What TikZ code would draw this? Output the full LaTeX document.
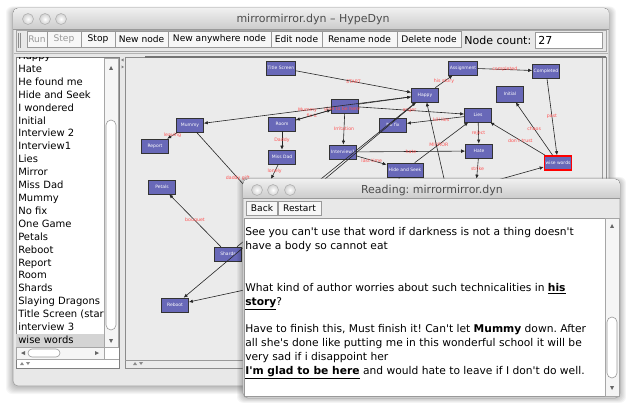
\documentclass[tikz,border=0pt]{standalone}
\usepackage{fontspec}
\setmainfont{DejaVu Sans}
\usetikzlibrary{arrows.meta,%
                shapes,%
                backgrounds,%
                positioning,%
                fit}

\definecolor{nodeblue}{RGB}{104,104,184}
\definecolor{labelred}{RGB}{255,84,84}
\definecolor{winbg}{RGB}{232,232,232}
\definecolor{canvasbg}{RGB}{235,235,235}
\definecolor{framegray}{RGB}{160,160,160}
\definecolor{titlegray}{RGB}{77,77,77}

\newcommand{\ulbf}[1]{\textbf{\underline{#1}}}
\newcommand{\sq}{\textquotesingle}

\begin{document}
\frenchspacing
\begin{tikzpicture}[x=1pt, y=-1pt, line width=.6pt,
window/.style={draw=framegray, fill=winbg, rounded corners=5pt},
%
light/.style={circle, draw=black!30, inner color=white, outer color=black!18,
minimum size=11pt, inner sep=0pt},
%
wintitle/.style={text=titlegray, font=\fontsize{11}{12}\selectfont},
%
button/.style={draw=black!40, fill=white!97!black, minimum height=16pt,
inner sep=0pt, font=\fontsize{9.1}{10}\selectfont},
%
listitem/.style={anchor=base west, inner sep=0pt, font=\fontsize{10}{11}\selectfont},
%
gnode/.style={rectangle, draw=black!80, fill=nodeblue, text=white,
minimum width=27pt, minimum height=14pt, inner sep=1pt,
font=\fontsize{4.5}{5}\selectfont,
path picture={\draw[white!55!nodeblue, line width=1pt]
  ([yshift=-0.6pt]path picture bounding box.north west) -- ([yshift=-0.6pt]path picture bounding box.north east);}},
%
wisebox/.style={draw=red, line width=1.6pt},
%
elabel/.style={text=labelred, inner sep=0.5pt, font=\fontsize{4.7}{5}\selectfont},
%
reading/.style={anchor=base west, inner sep=0pt, font=\fontsize{10.7}{12}\selectfont}]

\tikzset{>={Latex[length=4pt,width=3.5pt]}}

\useasboundingbox[fill=white] (0,0) rectangle (626,403);

% main window
\begin{scope}
  \foreach \s in {1,...,7}
    \fill[black, opacity=0.035, rounded corners=6pt] (13-\s,10-0.5*\s) rectangle (609+\s,387+\s);
  \draw[window] (13,8) rectangle (609,386);
  \begin{scope}
    \clip[rounded corners=5pt] (13,8) rectangle (609,386);
    \fill[top color=black!6, bottom color=black!20] (13,8) rectangle (609,29);
    \draw[black!40] (13,29) -- (609,29);
  \end{scope}
  \node[light] (close) at (28,19) {};
  \node[light] (mini) at (45,19) {};
  \node[light] (zoom) at (61,19) {};
  \node[wintitle] (maintitle) at (313,19) {mirrormirror.dyn – HypeDyn};
  %%%%%%%%%%%%%%%%%%%%%%%%%%%%%%%%%%
  \draw[black!35] (16,30) rectangle (606,51);
  \draw[black!45] (18,33) -- (18,48) (20,33) -- (20,48);
  \node[button, minimum width=20pt, text=black!40] (run) at (37,39) {Run};
  \node[button, minimum width=34pt, text=black!40] (stepbtn) at (64,39) {Step};
  \node[button, minimum width=34pt] (stop) at (98,39) {Stop};
  \node[button, minimum width=53pt] (newnode) at (141.5,39) {New node};
  \node[button, minimum width=103pt] (anywhere) at (219.5,39) {New anywhere node};
  \node[button, minimum width=51pt] (edit) at (296.5,39) {Edit node};
  \node[button, minimum width=75pt] (rename) at (359.5,39) {Rename node};
  \node[button, minimum width=64pt] (delete) at (429,39) {Delete node};
  \node[anchor=west, inner sep=0pt, font=\fontsize{11}{13}\selectfont] (count) at (464,40) {Node count:};
  \draw[black!40, fill=white] (535,32) rectangle (602,48);
  \node[anchor=west, inner sep=0pt, font=\fontsize{11}{12}\selectfont] (countval) at (538,40) {27};
  \draw[black!30] (14,53) -- (608,53);
\end{scope}

% node list
\begin{scope}
  \draw[black!50, fill=white] (16,57) rectangle (119,368);
  \fill[black!17] (16,334) rectangle (104,347);
  \begin{scope}
    \clip (16,58) rectangle (103,347);
    \foreach \name [count=\i from -1] in {Happy, Hate, He found me, Hide and Seek,
        I wondered, Initial, Interview 2, Interview1, Lies, Mirror, Miss Dad,
        Mummy, No fix, One Game, Petals, Reboot, Report, Room, Shards,
        Slaying Dragons, Title Screen (star, interview 3, wise words}
      \node[listitem] (item\i) at (18,72.5+12.9*\i) {\name};
  \end{scope}
  %%%%%%%%%%%%%%%%%%%%%%%%%%%%%%%%%%
  \draw[black!35, fill=black!4] (104,58) rectangle (118,347);
  \draw[black!40, fill=white, rounded corners=5pt] (106,120) rectangle (116,330);
  \fill[black!60] (109,70) -- (113,70) -- (111,66) -- cycle;
  \fill[black!60] (109,339) -- (113,339) -- (111,343) -- cycle;
  \draw[black!35, fill=black!4] (16,347) rectangle (104,359);
  \draw[black!40, fill=white, rounded corners=4pt] (28,349) rectangle (60,357);
  \fill[black!60] (21,353) -- (25,351) -- (25,355) -- cycle;
  \fill[black!60] (99,353) -- (95,351) -- (95,355) -- cycle;
  \draw[black!35] (16,359) -- (119,359);
  \fill[black!45] (20,365) -- (22,362) -- (24,365) -- cycle;
  \fill[black!45] (26,362) -- (28,365) -- (30,362) -- cycle;
\end{scope}

% graph canvas
\begin{scope}
  \draw[black!45, fill=canvasbg] (125,57) rectangle (606,368);
  \draw[black!55, line width=2pt] (145,57) -- (606,57);
  \draw[black!40] (602,58) -- (602,360) (125,360) -- (602,360);
  \fill[black!45] (133,365) -- (135,362) -- (137,365) -- cycle;
  \fill[black!45] (139,362) -- (141,365) -- (143,362) -- cycle;
  \fill[black!50] (121,60) -- (123.5,58.5) -- (123.5,61.5) -- cycle;
  \fill[black!50] (124,67) -- (121.5,65.5) -- (121.5,68.5) -- cycle;
  %%%%%%%%%%%%%%%%%%%%%%%%%%%%%%%%%%
  \node[gnode] (title) at (281,68) {Title Screen};
  \node[gnode] (assign) at (463,68) {Assignment};
  \node[gnode] (completed) at (546,71) {Completed};
  \node[gnode] (happy) at (425,95) {Happy};
  \node[gnode, minimum height=16pt] (initial) at (510,94) {Initial};
  \node[gnode] (glad) at (345,106) {};
  \node[gnode] (mummy) at (190,125) {Mummy};
  \node[gnode] (room) at (282,124) {Room};
  \node[gnode] (nofix) at (393,125) {No fix};
  \node[gnode] (lies) at (478,115) {Lies};
  \node[gnode] (report) at (155,146) {Report};
  \node[gnode] (missdad) at (282,157) {Miss Dad};
  \node[gnode] (interview) at (343,152) {Interview1};
  \node[gnode] (hate) at (479,151) {Hate};
  \node[gnode, minimum width=36pt] (hideseek) at (405,170) {Hide and Seek};
  \node[gnode, wisebox] (wise) at (558,163) {wise words};
  \node[gnode] (strikenode) at (476,186) {};
  \node[gnode] (petals) at (162,187) {Petals};
  \node[gnode] (shards) at (228,254) {Shards};
  \node[gnode] (reboot) at (175,305) {Reboot};
  \node[elabel] (gladlabel) at (342,109) {glad to be here};
  %%%%%%%%%%%%%%%%%%%%%%%%%%%%%%%%%%
  \coordinate (giftend) at (262,205);
  \coordinate (lonelyend) at (271,179);
  \coordinate (belowhappy) at (450,205);
  \coordinate (belowhide) at (384,200);
  \coordinate (rebootsrc) at (300,278);
\end{scope}

\begin{scope}[black!85]
  \draw[->] (title) -- node[elabel, pos=0.5] {START} (happy);
  \draw[->] (happy) -- node[elabel] {his story} (assign);
  \draw[->] (assign) -- node[elabel] {completed} (completed);
  \draw[->] (completed) -- node[elabel] {past} (wise);
  \draw[->] (wise) -- node[elabel] {chaos} (initial);
  \draw[->] (wise) -- node[elabel, pos=0.45] {don\sq t trust} (lies);
  \draw[->] (lies) -- node[elabel] {reject} (hate);
  \draw[->] (hate) -- node[elabel] {strike} (strikenode);
  \draw[->] (strikenode) -- (wise);
  \draw[->] (lies) -- node[elabel, pos=0.4] {kill lies} (nofix);
  \draw[->] (glad) -- node[elabel, pos=0.48] {anger} (lies);
  \draw[->] (interview) -- node[elabel] {hate} (hate);
  \draw[->] (hideseek) -- node[elabel, pos=0.45] {MIRROR} (lies);
  \draw[->] (belowhappy) -- (happy);
  %%%%%%%%%%%%%%%%%%%%%%%%%%%%%%%%%%
  \draw[->] (happy) -- node[elabel] {Mummy} (mummy);
  \draw[->] (glad) -- node[elabel, pos=0.55] {fix it} (room);
  \draw[->] (room) -- (glad);
  \draw[->] (glad) -- (happy);
  \draw[->] (room) -- node[elabel] {Daddy} (missdad);
  \draw[->] (missdad) -- node[elabel] {lonely} (lonelyend);
  \draw[->] (glad) -- node[elabel] {Irritation} (interview);
  \draw[->] (interview) -- node[elabel] {last time} (hideseek);
  \draw (hideseek) -- (belowhide);
  %%%%%%%%%%%%%%%%%%%%%%%%%%%%%%%%%%
  \draw[->] (mummy) -- node[elabel] {leaving} (report);
  \draw (mummy) -- node[elabel, pos=0.63] {daddy gift} (giftend);
  \draw[->] (shards) -- node[elabel] {bouquet} (petals);
  \draw[->] (shards) -- (happy);
  \draw[->] (happy) -- (reboot);
  \draw[->] (rebootsrc) -- (reboot);
\end{scope}

% reading window
\begin{scope}
  \foreach \s in {1,...,6}
    \fill[black, opacity=0.04, rounded corners=6pt] (243-\s,180-0.5*\s) rectangle (620+\s,398+0.8*\s);
  \draw[window] (243,179) rectangle (620,398);
  \begin{scope}
    \clip[rounded corners=5pt] (243,179) rectangle (620,398);
    \fill[top color=black!6, bottom color=black!20] (243,179) rectangle (620,198);
    \draw[black!40] (243,198) -- (620,198);
  \end{scope}
  \node[light] (rclose) at (257,190) {};
  \node[light] (rmini) at (273,190) {};
  \node[light] (rzoom) at (290,190) {};
  \node[wintitle] (readtitle) at (432,190) {Reading: mirrormirror.dyn};
  \node[button, minimum width=31pt, minimum height=14pt] (back) at (262,208.5) {Back};
  \node[button, minimum width=43pt, minimum height=14pt] (restart) at (299.5,208.5) {Restart};
  %%%%%%%%%%%%%%%%%%%%%%%%%%%%%%%%%%
  \draw[black!40, fill=white] (244,218) rectangle (619,396);
  \draw[black!35, fill=black!4] (605,218) rectangle (619,396);
  \draw[black!40, fill=white, rounded corners=5pt] (607,317) rectangle (617,378);
  \fill[black!60] (610,228) -- (614,228) -- (612,224) -- cycle;
  \fill[black!60] (610,386) -- (614,386) -- (612,390) -- cycle;
  \node[reading] (line1) at (245,235.5) {See you can\sq t use that word if darkness is not a thing doesn\sq t};
  \node[reading] (line2) at (245,249.5) {have a body so cannot eat};
  \node[reading] (line3) at (245,291.5) {What kind of author worries about such technicalities in \ulbf{his}};
  \node[reading] (line4) at (245,305.5) {\ulbf{story}?};
  \node[reading] (line5) at (245,332) {Have to finish this, Must finish it! Can\sq t let \textbf{Mummy} down. After};
  \node[reading] (line6) at (245,346.5) {all she\sq s done like putting me in this wonderful school it will be};
  \node[reading] (line7) at (245,360.5) {very sad if i disappoint her};
  \node[reading] (line8) at (245,374.5) {\ulbf{I\sq m glad to be here} and would hate to leave if I don\sq t do well.};
\end{scope}

\end{tikzpicture}
\end{document}
